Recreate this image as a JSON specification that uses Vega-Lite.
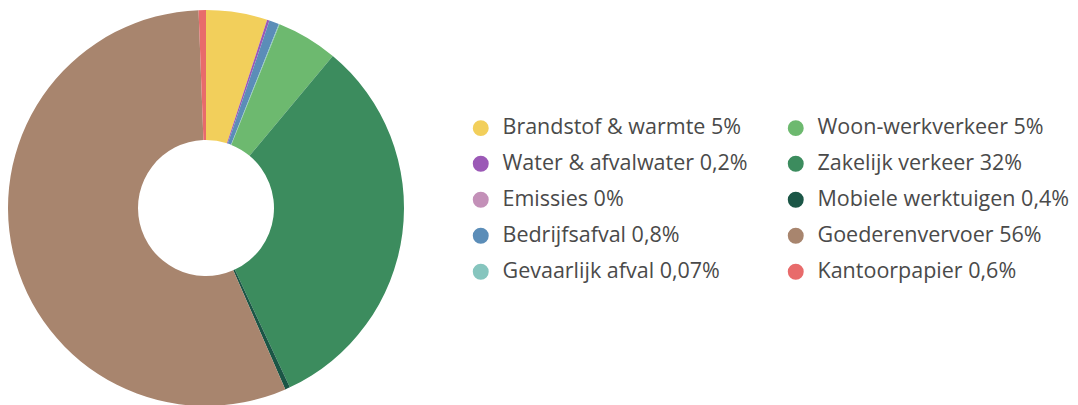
{
  "$schema": "https://vega.github.io/schema/vega-lite/v6.json",
  "autosize": {"type": "none"},
  "width": 412,
  "height": 410,
  "padding": {"left": 0, "top": 3, "right": 666, "bottom": 0},
  "background": "white",
  "config": {"view": {"stroke": null}},
  "data": {"values": [
    {"cat": "Brandstof & warmte 5%", "value": 5, "ord": 1},
    {"cat": "Water & afvalwater 0,2%", "value": 0.2, "ord": 2},
    {"cat": "Emissies 0%", "value": 0, "ord": 3},
    {"cat": "Bedrijfsafval 0,8%", "value": 0.8, "ord": 4},
    {"cat": "Gevaarlijk afval 0,07%", "value": 0.07, "ord": 5},
    {"cat": "Woon-werkverkeer 5%", "value": 5, "ord": 6},
    {"cat": "Zakelijk verkeer 32%", "value": 32, "ord": 7},
    {"cat": "Mobiele werktuigen 0,4%", "value": 0.4, "ord": 8},
    {"cat": "Goederenvervoer 56%", "value": 56, "ord": 9},
    {"cat": "Kantoorpapier 0,6%", "value": 0.6, "ord": 10}
  ]},
  "mark": {"type": "arc", "radius": 198, "innerRadius": 68},
  "encoding": {
    "theta": {"field": "value", "type": "quantitative", "stack": true},
    "order": {"field": "ord", "type": "quantitative"},
    "color": {
      "field": "cat",
      "type": "nominal",
      "scale": {
        "domain": ["Brandstof & warmte 5%", "Water & afvalwater 0,2%", "Emissies 0%", "Bedrijfsafval 0,8%", "Gevaarlijk afval 0,07%", "Woon-werkverkeer 5%", "Zakelijk verkeer 32%", "Mobiele werktuigen 0,4%", "Goederenvervoer 56%", "Kantoorpapier 0,6%"],
        "range": ["#F2CF5B", "#9B59B6", "#C390B8", "#5B8DB8", "#86C5BE", "#6DB96F", "#3C8C5E", "#1B5646", "#A8856E", "#E86B6B"]
      },
      "legend": {
        "title": null,
        "orient": "none",
        "legendX": 470,
        "legendY": 114,
        "columns": 2,
        "columnPadding": 37,
        "rowPadding": 13,
        "symbolType": "circle",
        "symbolSize": 254,
        "symbolStrokeWidth": 0,
        "labelFont": "Open Sans",
        "labelFontSize": 21.5,
        "labelColor": "#4a4a4a",
        "labelOffset": 11,
        "labelLimit": 400
      }
    }
  }
}
